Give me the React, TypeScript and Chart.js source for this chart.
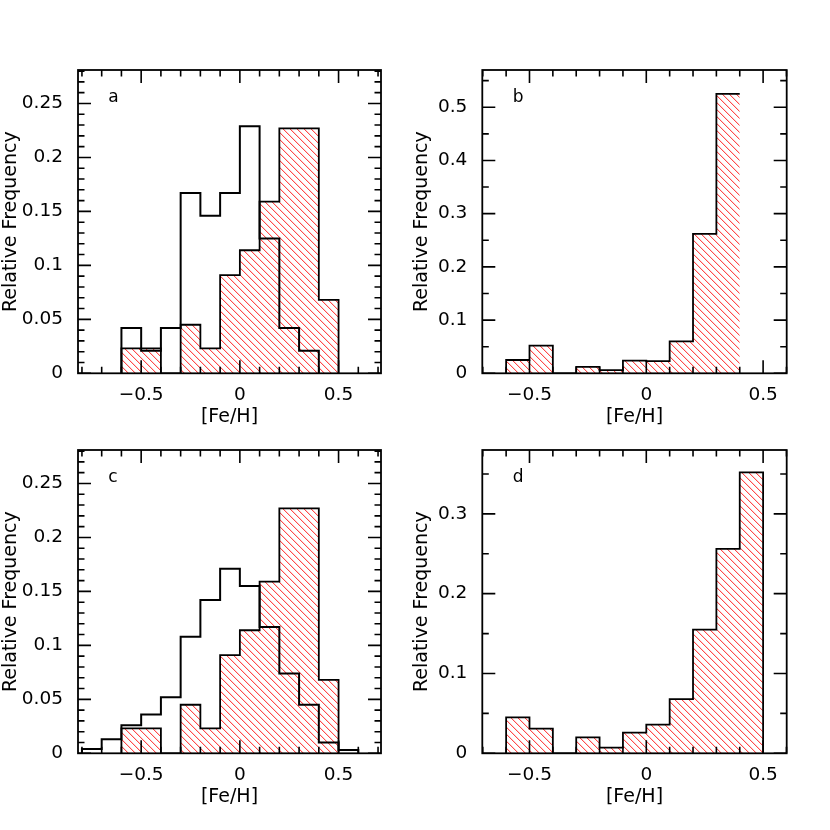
import React, { useEffect, useRef } from "react";
import { Chart, registerables } from "chart.js";

Chart.register(...registerables);

// Bin edges shared by all panels ([Fe/H], bin width 0.1)
const binEdges = [-0.8, -0.7, -0.6, -0.5, -0.4, -0.3, -0.2, -0.1, 0, 0.1, 0.2, 0.3, 0.4, 0.5, 0.6];

// Values per bin (null = bin not drawn)
const panelAOpen = [null, null, 0.042, 0.021, 0.042, 0.167, 0.146, 0.167, 0.229, 0.125, 0.042, 0.021, null, null];
const panelAHatched = [null, null, 0.023, 0.023, 0, 0.045, 0.023, 0.091, 0.114, 0.159, 0.227, 0.227, 0.068, null];
const panelBHatched = [null, null, 0.025, 0.052, 0, 0.012, 0.006, 0.024, 0.023, 0.060, 0.262, 0.525, null, null];
const panelCOpen = [0.004, 0.013, 0.026, 0.036, 0.052, 0.108, 0.142, 0.171, 0.155, 0.117, 0.074, 0.045, 0.010, 0.003];
const panelCHatched = [null, null, 0.023, 0.023, 0, 0.045, 0.023, 0.091, 0.114, 0.159, 0.227, 0.227, 0.068, null];
const panelDHatched = [null, null, 0.045, 0.031, 0, 0.020, 0.007, 0.026, 0.036, 0.068, 0.155, 0.256, 0.352, null];

const panelLetters = ["a", "b", "c", "d"];
const xTitle = "[Fe/H]";
const yTitle = "Relative Frequency";

const FONT = "'DejaVu Sans', sans-serif";

function toSteps(values: (number | null)[], closeEnd: boolean) {
  let f = -1;
  let l = -1;
  values.forEach((v, i) => {
    if (v !== null) {
      if (f < 0) f = i;
      l = i;
    }
  });
  const pts: { x: number; y: number }[] = [{ x: binEdges[f], y: 0 }];
  for (let i = f; i <= l; i++) pts.push({ x: binEdges[i], y: values[i] as number });
  pts.push({ x: binEdges[l + 1], y: closeEnd ? 0 : (values[l] as number) });
  return pts;
}

function makeHatch(): CanvasPattern | string {
  const c = document.createElement("canvas");
  const s = 7;
  c.width = s;
  c.height = s;
  const g = c.getContext("2d");
  if (!g) return "rgba(255,0,0,0.3)";
  for (let i = 0; i < s; i++) {
    g.fillStyle = "rgba(255,30,30,0.8)";
    g.fillRect(i, i, 1, 1);
    g.fillStyle = "rgba(255,0,0,0.18)";
    g.fillRect((i + 1) % s, i, 1, 1);
  }
  const p = g.createPattern(c, "repeat");
  return p || "rgba(255,0,0,0.3)";
}

const framePlugin = {
  id: "frame",
  afterDraw(chart: any, _args: any, opts: any) {
    const { ctx, chartArea } = chart;
    const { left, right, top, bottom } = chartArea;
    const xs = chart.scales.x;
    const ys = chart.scales.y;
    ctx.save();
    ctx.strokeStyle = "#000";
    ctx.lineWidth = 1.8;
    ctx.strokeRect(left, top, right - left, bottom - top);
    const drawTicks = (scale: any, minor: number, major: number, horizontal: boolean) => {
      const start = Math.ceil((scale.min - 1e-9) / minor);
      const end = Math.floor((scale.max + 1e-9) / minor);
      for (let k = start; k <= end; k++) {
        const v = k * minor;
        const r = v / major;
        const isMajor = Math.abs(r - Math.round(r)) < 1e-6;
        const len = isMajor ? 13 : 6.5;
        const p = scale.getPixelForValue(v);
        ctx.beginPath();
        if (horizontal) {
          ctx.moveTo(p, bottom);
          ctx.lineTo(p, bottom - len);
          ctx.moveTo(p, top);
          ctx.lineTo(p, top + len);
        } else {
          ctx.moveTo(left, p);
          ctx.lineTo(left + len, p);
          ctx.moveTo(right, p);
          ctx.lineTo(right - len, p);
        }
        ctx.stroke();
      }
    };
    ctx.lineWidth = 1.6;
    drawTicks(xs, opts.xMinor, opts.xMajor, true);
    drawTicks(ys, opts.yMinor, opts.yMajor, false);
    ctx.fillStyle = "#000";
    ctx.font = `17px ${FONT}`;
    ctx.textAlign = "left";
    ctx.textBaseline = "alphabetic";
    ctx.fillText(opts.letter, left + 0.1 * (right - left), top + 31.5);
    ctx.restore();
  },
};

type PanelDef = {
  left: number;
  top: number;
  width: number;
  height: number;
  yAxisWidth: number;
  padTop: number;
  padRight: number;
  padBottom: number;
  xMin: number;
  xMax: number;
  yMax: number;
  yStep: number;
  yMinor: number;
  open: (number | null)[] | null;
  hatched: (number | null)[];
  closeEnd: boolean;
  letter: string;
};

const panels: PanelDef[] = [
  { left: 0, top: 0, width: 410, height: 430, yAxisWidth: 78, padTop: 70, padRight: 29, padBottom: 1.7,
    xMin: -0.82, xMax: 0.715, yMax: 0.281, yStep: 0.05, yMinor: 0.01,
    open: panelAOpen, hatched: panelAHatched, closeEnd: true, letter: panelLetters[0] },
  { left: 411, top: 0, width: 419, height: 430, yAxisWidth: 71.3, padTop: 70, padRight: 43.3, padBottom: 1.7,
    xMin: -0.702, xMax: 0.601, yMax: 0.57, yStep: 0.1, yMinor: 0.05,
    open: null, hatched: panelBHatched, closeEnd: false, letter: panelLetters[1] },
  { left: 0, top: 380, width: 410, height: 450, yAxisWidth: 78, padTop: 70, padRight: 29, padBottom: 21.7,
    xMin: -0.82, xMax: 0.715, yMax: 0.281, yStep: 0.05, yMinor: 0.01,
    open: panelCOpen, hatched: panelCHatched, closeEnd: true, letter: panelLetters[2] },
  { left: 411, top: 380, width: 419, height: 450, yAxisWidth: 71.3, padTop: 70, padRight: 43.3, padBottom: 21.7,
    xMin: -0.702, xMax: 0.601, yMax: 0.38, yStep: 0.1, yMinor: 0.05,
    open: null, hatched: panelDHatched, closeEnd: true, letter: panelLetters[3] },
];

function fmt(v: number) {
  const r = Math.round(v * 1000) / 1000;
  if (r === 0) return "0";
  return r < 0 ? "\u2212" + String(Math.abs(r)) : String(r);
}

function Panel({ def }: { def: PanelDef }) {
  const ref = useRef<HTMLCanvasElement | null>(null);
  useEffect(() => {
    if (!ref.current) return;
    const hatch = makeHatch();
    const datasets: any[] = [];
    if (def.open) {
      datasets.push({
        data: toSteps(def.open, true),
        stepped: "before",
        borderColor: "#000",
        borderWidth: 2,
        pointRadius: 0,
        fill: false,
      });
    }
    datasets.push({
      data: toSteps(def.hatched, def.closeEnd),
      stepped: "before",
      borderColor: "#000",
      borderWidth: 1.8,
      pointRadius: 0,
      backgroundColor: hatch,
      fill: "origin",
    });
    const chart = new Chart(ref.current, {
      type: "line",
      data: { datasets },
      plugins: [framePlugin as any],
      options: {
        animation: false,
        responsive: false,
        devicePixelRatio: 1,
        layout: { padding: { left: 0, top: def.padTop, right: def.padRight, bottom: def.padBottom } },
        plugins: {
          legend: { display: false },
          tooltip: { enabled: false },
          frame: { xMinor: 0.1, xMajor: 0.5, yMinor: def.yMinor, yMajor: def.yStep, letter: def.letter },
        } as any,
        scales: {
          x: {
            type: "linear",
            min: def.xMin,
            max: def.xMax,
            grid: { display: false, drawTicks: false },
            border: { display: false },
            ticks: {
              stepSize: 0.5,
              includeBounds: false,
              padding: 10.4,
              color: "#000",
              font: { family: FONT, size: 18.5 },
              maxRotation: 0,
              autoSkip: false,
              callback: (v: any) => fmt(Number(v)),
            },
            title: {
              display: true,
              text: xTitle,
              color: "#000",
              font: { family: FONT, size: 19 },
              padding: 0,
            },
            afterFit: (s: any) => {
              s.height = 55;
            },
          },
          y: {
            type: "linear",
            min: 0,
            max: def.yMax,
            grid: { display: false, drawTicks: false },
            border: { display: false },
            ticks: {
              stepSize: def.yStep,
              includeBounds: false,
              padding: 15,
              color: "#000",
              font: { family: FONT, size: 18.5 },
              autoSkip: false,
              callback: (v: any) => fmt(Number(v)),
            },
            title: {
              display: true,
              text: yTitle,
              color: "#000",
              font: { family: FONT, size: 19 },
              padding: 0,
            },
            afterFit: (s: any) => {
              s.width = def.yAxisWidth;
            },
          },
        },
      } as any,
    });
    return () => chart.destroy();
  }, [def]);
  return (
    <canvas
      ref={ref}
      width={def.width}
      height={def.height}
      style={{ position: "absolute", left: def.left, top: def.top, width: def.width, height: def.height }}
    />
  );
}

export default function App() {
  return (
    <div style={{ position: "absolute", left: 0, top: 0, width: 830, height: 830, background: "#fff" }}>
      {panels.map((p, i) => (
        <Panel key={i} def={p} />
      ))}
    </div>
  );
}
